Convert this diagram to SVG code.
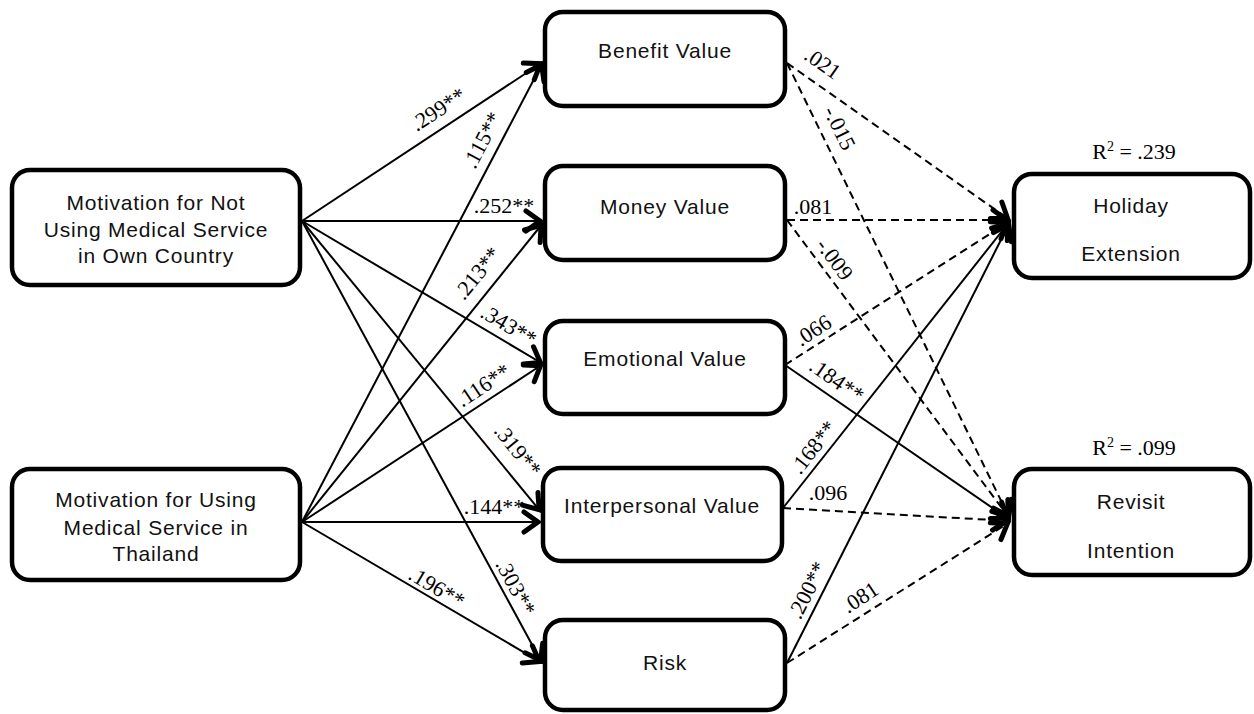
<svg xmlns="http://www.w3.org/2000/svg" width="1254" height="714" viewBox="0 0 1254 714">
  <style>
    .box { fill: #fff; stroke: #000; stroke-width: 4.5; }
    .nt { font-family: "Liberation Sans", Arial, sans-serif; font-size: 21px; letter-spacing: 0.8px; fill: #111; text-anchor: middle; }
    .lbl { font-family: "Liberation Serif", "Times New Roman", serif; font-size: 22px; fill: #000; text-anchor: middle; }
    .solid { stroke: #000; stroke-width: 2; fill: none; marker-end: url(#arr); }
    .dash { stroke: #000; stroke-width: 2; fill: none; stroke-dasharray: 8 5; marker-end: url(#arr); }
  </style>
  <defs>
    <marker id="arr" markerUnits="userSpaceOnUse" markerWidth="40" markerHeight="40" viewBox="-20 -20 40 40" refX="0" refY="0" orient="auto" overflow="visible">
      <path d="M-17,-10 L-3,0 L-17,10" fill="none" stroke="#000" stroke-width="5" stroke-dasharray="none" stroke-linecap="round" stroke-linejoin="miter"/>
    </marker>
  </defs>
  <rect width="1254" height="714" fill="#fff"/>

  <!-- connectors -->
  <g id="connectors">
    <!-- from Motivation for Not Using (302,221) -->
    <line class="solid" x1="302" y1="221" x2="543" y2="62"/>
    <line class="solid" x1="302" y1="221" x2="543" y2="221"/>
    <line class="solid" x1="302" y1="221" x2="543" y2="364"/>
    <line class="solid" x1="302" y1="221" x2="541" y2="512"/>
    <line class="solid" x1="302" y1="221" x2="542" y2="663"/>
    <!-- from Motivation for Using (302,522) -->
    <line class="solid" x1="302" y1="522" x2="543" y2="62"/>
    <line class="solid" x1="302" y1="522" x2="543" y2="223"/>
    <line class="solid" x1="302" y1="522" x2="543" y2="364"/>
    <line class="solid" x1="302" y1="522" x2="541" y2="522"/>
    <line class="solid" x1="302" y1="522" x2="542" y2="663"/>
    <!-- to Holiday Extension (1010,220) -->
    <line class="dash" x1="787" y1="63" x2="1010" y2="220"/>
    <line class="dash" x1="787" y1="220" x2="1010" y2="220"/>
    <line class="dash" x1="785" y1="365" x2="1010" y2="221"/>
    <line class="solid" x1="783" y1="508" x2="1010" y2="221"/>
    <line class="solid" x1="787" y1="663" x2="1010" y2="222"/>
    <!-- to Revisit Intention (1010,520) -->
    <line class="dash" x1="787" y1="63" x2="1010" y2="519"/>
    <line class="dash" x1="787" y1="220" x2="1010" y2="519"/>
    <line class="solid" x1="785" y1="365" x2="1010" y2="520"/>
    <line class="dash" x1="783" y1="508" x2="1010" y2="521"/>
    <line class="dash" x1="787" y1="663" x2="1010" y2="522"/>

    <!-- path coefficients -->
    <text class="lbl" transform="translate(438,109) rotate(-33)" dy="0.35em">.299**</text>
    <text class="lbl" transform="translate(482,140) rotate(-62.5)" dy="0.35em">.115**</text>
    <text class="lbl" transform="translate(504,205)" dy="0.35em">.252**</text>
    <text class="lbl" transform="translate(477,273) rotate(-51)" dy="0.35em">.213**</text>
    <text class="lbl" transform="translate(509,325) rotate(30.7)" dy="0.35em">.343**</text>
    <text class="lbl" transform="translate(483,385) rotate(-33.4)" dy="0.35em">.116**</text>
    <text class="lbl" transform="translate(518,450) rotate(51)" dy="0.35em">.319**</text>
    <text class="lbl" transform="translate(494,506)" dy="0.35em">.144**</text>
    <text class="lbl" transform="translate(516,587) rotate(61.7)" dy="0.35em">.303**</text>
    <text class="lbl" transform="translate(437,587) rotate(30.6)" dy="0.35em">.196**</text>

    <text class="lbl" transform="translate(823,63) rotate(35)" dy="0.35em">.021</text>
    <text class="lbl" transform="translate(840,128) rotate(64)" dy="0.35em">-.015</text>
    <text class="lbl" transform="translate(813,206)" dy="0.35em">.081</text>
    <text class="lbl" transform="translate(835,259) rotate(53.5)" dy="0.35em">-.009</text>
    <text class="lbl" transform="translate(813,330) rotate(-32.7)" dy="0.35em">.066</text>
    <text class="lbl" transform="translate(837,380) rotate(34.8)" dy="0.35em">.184**</text>
    <text class="lbl" transform="translate(813,447) rotate(-51.8)" dy="0.35em">.168**</text>
    <text class="lbl" transform="translate(828,492)" dy="0.35em">.096</text>
    <text class="lbl" transform="translate(807,590) rotate(-63.4)" dy="0.35em">.200**</text>
    <text class="lbl" transform="translate(860,597) rotate(-32.9)" dy="0.35em">.081</text>
  </g>

  <!-- antecedents -->
  <g id="motivation-not-using">
    <rect class="box" x="12" y="170" width="288" height="115" rx="18"/>
    <text class="nt" x="156" y="210">Motivation for Not</text>
    <text class="nt" x="156" y="237">Using Medical Service</text>
    <text class="nt" x="156" y="263">in Own Country</text>
  </g>
  <g id="motivation-using">
    <rect class="box" x="12" y="469" width="288" height="111" rx="18"/>
    <text class="nt" x="156" y="507">Motivation for Using</text>
    <text class="nt" x="156" y="535">Medical Service in</text>
    <text class="nt" x="156" y="561">Thailand</text>
  </g>

  <!-- perceived values -->
  <g id="benefit-value">
    <rect class="box" x="545" y="12" width="240" height="94" rx="18"/>
    <text class="nt" x="665" y="58">Benefit Value</text>
  </g>
  <g id="money-value">
    <rect class="box" x="545" y="166" width="240" height="94" rx="18"/>
    <text class="nt" x="665" y="214">Money Value</text>
  </g>
  <g id="emotional-value">
    <rect class="box" x="545" y="321" width="240" height="93" rx="18"/>
    <text class="nt" x="665" y="366">Emotional Value</text>
  </g>
  <g id="interpersonal-value">
    <rect class="box" x="543" y="468" width="239" height="93" rx="18"/>
    <text class="nt" x="662" y="513">Interpersonal Value</text>
  </g>
  <g id="risk">
    <rect class="box" x="545" y="620" width="240" height="90" rx="18"/>
    <text class="nt" x="665" y="670">Risk</text>
  </g>

  <!-- outcomes -->
  <g id="holiday-extension">
    <text class="lbl" x="1134" y="159">R<tspan font-size="14" dy="-8">2</tspan><tspan dy="8"> = .239</tspan></text>
    <rect class="box" x="1014" y="174" width="236" height="104" rx="18"/>
    <text class="nt" x="1131" y="213">Holiday</text>
    <text class="nt" x="1131" y="261">Extension</text>
  </g>
  <g id="revisit-intention">
    <text class="lbl" x="1134" y="455">R<tspan font-size="14" dy="-8">2</tspan><tspan dy="8"> = .099</tspan></text>
    <rect class="box" x="1014" y="469" width="236" height="106" rx="18"/>
    <text class="nt" x="1131" y="509">Revisit</text>
    <text class="nt" x="1131" y="558">Intention</text>
  </g>
</svg>
